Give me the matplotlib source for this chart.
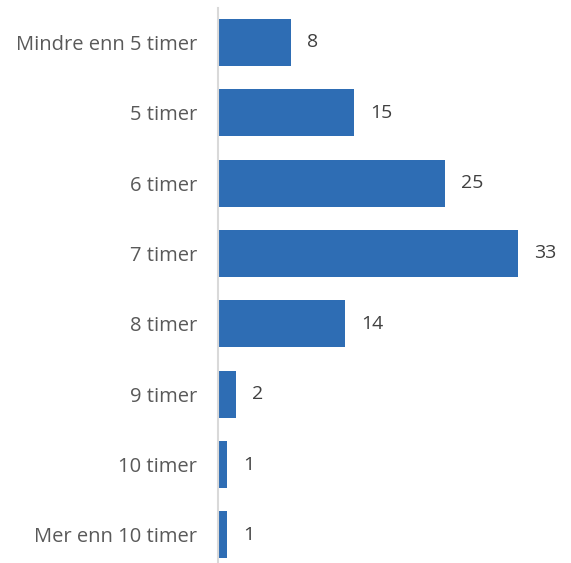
import matplotlib.pyplot as plt

# Hours of sleep, share of respondents (%)
categories = ["Mindre enn 5 timer", "5 timer", "6 timer", "7 timer",
              "8 timer", "9 timer", "10 timer", "Mer enn 10 timer"]
values = [8, 15, 25, 33, 14, 2, 1, 1]

plt.rcParams['font.family'] = ['Open Sans', 'DejaVu Sans']

fig = plt.figure(figsize=(5.71, 5.63), dpi=100)
ax = fig.add_axes([218 / 571, 0, 1 - 218 / 571, 1 - 8 / 563])

pos = list(range(len(categories)))
ax.barh(pos, values, height=0.67, color='#2E6DB4')

for p, v in zip(pos, values):
    ax.annotate(str(v), (v, p), xytext=(11.5, 0), textcoords='offset points',
                ha='left', va='center', fontsize=14, color='#404040')

ax.set_yticks(pos)
ax.set_yticklabels(categories, fontsize=14.5, color='#595959')
ax.tick_params(axis='y', length=0, pad=15)
ax.set_xticks([])
ax.set_xlim(0, 38.8)
ax.set_ylim(7.4, -0.49)

for s in ['top', 'right', 'bottom']:
    ax.spines[s].set_visible(False)
ax.spines['left'].set_color('#d9d9d9')
ax.spines['left'].set_linewidth(1.5)

fig.savefig('out.png', dpi=100)
